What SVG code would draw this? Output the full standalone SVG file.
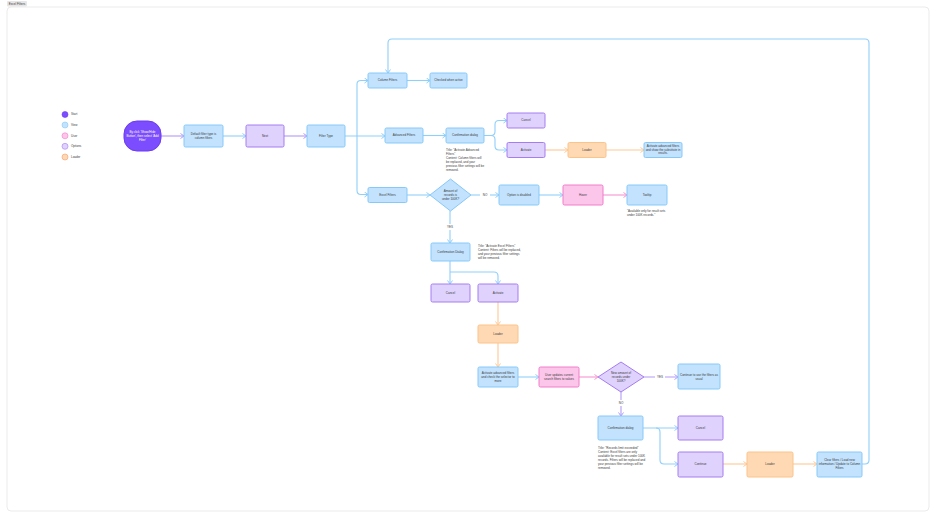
<svg xmlns="http://www.w3.org/2000/svg" width="936" height="517" viewBox="0 0 936 517">
<defs>
<style>
text{font-family:"Liberation Sans",Arial,sans-serif;font-size:3px;fill:#3a3a3a;text-anchor:middle;dominant-baseline:middle}
.note{text-anchor:start;dominant-baseline:auto}
.lg{text-anchor:start}
.blue{fill:#c2e2fd;stroke:#86c9f9;stroke-width:1}
.purp{fill:#dfd2fc;stroke:#a57cf2;stroke-width:1}
.orng{fill:#fed9b3;stroke:#fcc38a;stroke-width:1}
.pink{fill:#fcc6ea;stroke:#f17cc9;stroke-width:1}
.c{fill:none;stroke-width:1.1}
.cb{stroke:#90cffa}
.cp{stroke:#b39af7}
.co{stroke:#fdc995}
.ck{stroke:#f594d1}
.lbl{fill:#fff}
</style>
<marker id="mb" markerUnits="userSpaceOnUse" markerWidth="6" markerHeight="6" refX="4" refY="3" orient="auto"><path d="M0.5,0.5 L4,3 L0.5,5.5" fill="none" stroke="#90cffa" stroke-width="1"/></marker>
<marker id="mp" markerUnits="userSpaceOnUse" markerWidth="6" markerHeight="6" refX="4" refY="3" orient="auto"><path d="M0.5,0.5 L4,3 L0.5,5.5" fill="none" stroke="#b39af7" stroke-width="1"/></marker>
<marker id="mo" markerUnits="userSpaceOnUse" markerWidth="6" markerHeight="6" refX="4" refY="3" orient="auto"><path d="M0.5,0.5 L4,3 L0.5,5.5" fill="none" stroke="#fdc995" stroke-width="1"/></marker>
<marker id="mk" markerUnits="userSpaceOnUse" markerWidth="6" markerHeight="6" refX="4" refY="3" orient="auto"><path d="M0.5,0.5 L4,3 L0.5,5.5" fill="none" stroke="#f594d1" stroke-width="1"/></marker>
</defs>
<rect x="0" y="0" width="936" height="517" fill="#fff"/>
<rect x="7" y="7" width="922" height="504" rx="4" fill="#fff" stroke="#e6e6e6" stroke-width="0.8"/>
<g id="title"><rect x="7" y="1" width="20" height="5.5" rx="1" fill="#e6e6e6"/><text x="17" y="3.9">Excel Filters</text></g>

<g id="legend">
<circle cx="65" cy="114.5" r="3" fill="#7c4dff" stroke="#6a3cf0" stroke-width="0.6"/><text class="lg" x="71" y="114.5">Start</text>
<circle cx="65" cy="125" r="3" fill="#c2e2fd" stroke="#86c9f9" stroke-width="0.6"/><text class="lg" x="71" y="125">View</text>
<circle cx="65" cy="135.8" r="3" fill="#fcc6ea" stroke="#f17cc9" stroke-width="0.6"/><text class="lg" x="71" y="135.8">User</text>
<circle cx="65" cy="146.3" r="3" fill="#dfd2fc" stroke="#a57cf2" stroke-width="0.6"/><text class="lg" x="71" y="146.3">Options</text>
<circle cx="65" cy="157" r="3" fill="#fed9b3" stroke="#f99a6b" stroke-width="0.6"/><text class="lg" x="71" y="157">Loader</text>
</g>

<g id="connectors">
<path class="c cp" d="M161,136 H184" marker-end="url(#mp)"/>
<path class="c cb" d="M223,136 H246" marker-end="url(#mb)"/>
<path class="c cp" d="M284,136 H307" marker-end="url(#mp)"/>
<path class="c cb" d="M345,136 H385" marker-end="url(#mb)"/>
<path class="c cb" d="M357,136 V84 Q357,80.5 361,80.5 H368" marker-end="url(#mb)"/>
<path class="c cb" d="M357,136 V190.5 Q357,194.5 361,194.5 H368" marker-end="url(#mb)"/>
<path class="c cb" d="M407,80.5 H430" marker-end="url(#mb)"/>
<path class="c cb" d="M423,135.5 H446" marker-end="url(#mb)"/>
<path class="c cb" d="M484,135.5 H491 Q495,135.5 495,131.5 V124.5 Q495,120.5 499,120.5 H507" marker-end="url(#mb)"/>
<path class="c cb" d="M491,135.5 Q495,135.5 495,139.5 V146 Q495,150 499,150 H507" marker-end="url(#mb)"/>
<path class="c co" d="M545,150 H568" marker-end="url(#mo)"/>
<path class="c co" d="M606,150 H644" marker-end="url(#mo)"/>
<path class="c cb" d="M407,195 H430" marker-end="url(#mb)"/>
<path class="c cb" d="M471,195 H499" marker-end="url(#mb)"/>
<path class="c cb" d="M539,195 H563" marker-end="url(#mb)"/>
<path class="c ck" d="M603,195 H627" marker-end="url(#mk)"/>
<path class="c cb" d="M450,211 V243" marker-end="url(#mb)"/>
<path class="c cb" d="M450,261 V284" marker-end="url(#mb)"/>
<path class="c cb" d="M450,272 H494 Q498,272 498,276 V284" marker-end="url(#mb)"/>
<path class="c co" d="M498,302 V325" marker-end="url(#mo)"/>
<path class="c co" d="M498,343 V367" marker-end="url(#mo)"/>
<path class="c cb" d="M518,377 H539" marker-end="url(#mb)"/>
<path class="c ck" d="M579,377 H598" marker-end="url(#mk)"/>
<path class="c cp" d="M644,377 H678" marker-end="url(#mp)"/>
<path class="c cp" d="M621,392 V416" marker-end="url(#mp)"/>
<path class="c cb" d="M643,428 H678" marker-end="url(#mb)"/>
<path class="c cb" d="M656,428 Q660,428 660,432 V460 Q660,464 664,464 H678" marker-end="url(#mb)"/>
<path class="c co" d="M723,464 H747" marker-end="url(#mo)"/>
<path class="c co" d="M793,464 H817" marker-end="url(#mo)"/>
<path class="c cb" d="M862,464 H865 Q869,464 869,460 V43 Q869,39 865,39 H392 Q388,39 388,43 V73" marker-end="url(#mb)"/>
<rect class="lbl" x="480" y="192" width="10" height="6"/><text x="485" y="195">NO</text>
<rect class="lbl" x="445" y="224" width="10" height="6"/><text x="450" y="227">YES</text>
<rect class="lbl" x="655" y="374" width="10" height="6"/><text x="660" y="377">YES</text>
<rect class="lbl" x="616" y="400" width="10" height="6"/><text x="621" y="403">NO</text>
</g>

<g id="start"><rect x="124" y="121" width="37" height="30" rx="13" fill="#7c4dff" stroke="#6a3cf0" stroke-width="1"/>
<text x="142.5" y="132" style="fill:#fff">By click 'Show/Hide</text><text x="142.5" y="136" style="fill:#fff">Button', then select 'Add</text><text x="142.5" y="140" style="fill:#fff">Filter'</text></g>
<g id="default"><rect class="blue" x="184" y="125" width="39" height="22" rx="1.5"/><text x="203.5" y="134.2">Default filter type is</text><text x="203.5" y="138.2">column filters</text></g>
<g id="next"><rect class="purp" x="246" y="125" width="38" height="22" rx="1.5"/><text x="265" y="136">Next</text></g>
<g id="filtertype"><rect class="blue" x="307" y="125" width="38" height="22" rx="1.5"/><text x="326" y="136">Filter Type</text></g>
<g id="columnfilters"><rect class="blue" x="368" y="73" width="39" height="15" rx="1.5"/><text x="387.5" y="80.5">Column Filters</text></g>
<g id="checked"><rect class="blue" x="430" y="73" width="37" height="15" rx="1.5"/><text x="448.5" y="80.5">Checked when active</text></g>
<g id="advanced"><rect class="blue" x="385" y="128" width="38" height="15" rx="1.5"/><text x="404" y="135.5">Advanced Filters</text></g>
<g id="confirm1"><rect class="blue" x="446" y="128" width="38" height="15" rx="1.5"/><text x="465" y="135.5">Confirmation dialog</text>
<text class="note" x="446" y="151">Title: "Activate Advanced</text><text class="note" x="446" y="155">Filters"</text><text class="note" x="446" y="159">Content: Column filters will</text><text class="note" x="446" y="163">be replaced, and your</text><text class="note" x="446" y="167">previous filter settings will be</text><text class="note" x="446" y="171">removed.</text></g>
<g id="cancel1"><rect class="purp" x="507" y="113" width="38" height="15" rx="1.5"/><text x="526" y="120.5">Cancel</text></g>
<g id="activate1"><rect class="purp" x="507" y="142.5" width="38" height="15" rx="1.5"/><text x="526" y="150">Activate</text></g>
<g id="loader1"><rect class="orng" x="568" y="142.5" width="38" height="15" rx="1.5"/><text x="587" y="150">Loader</text></g>
<g id="advresult"><rect class="blue" x="644" y="142.5" width="38" height="15" rx="1.5"/><text x="663" y="146.5">Activate advanced filters</text><text x="663" y="150">and show the substitute in</text><text x="663" y="153.5">results.</text></g>
<g id="excelfilters"><rect class="blue" x="368" y="187.5" width="39" height="15" rx="1.5"/><text x="387.5" y="195">Excel Filters</text></g>
<g id="decision1"><path class="blue" d="M450.5,179 L471,195 L450.5,211 L430,195 Z"/><text x="450.5" y="191">Amount of</text><text x="450.5" y="195">records is</text><text x="450.5" y="199">under 100K?</text></g>
<g id="disabled"><rect class="blue" x="499" y="185" width="40" height="20" rx="1.5"/><text x="519" y="195">Option is disabled</text></g>
<g id="hover"><rect class="pink" x="563" y="185" width="40" height="20" rx="1.5"/><text x="583" y="195">Hover</text></g>
<g id="tooltip"><rect class="blue" x="627" y="185" width="40" height="20" rx="1.5"/><text x="647" y="195">Tooltip</text>
<text class="note" x="627" y="212">"Available only for result sets</text><text class="note" x="627" y="216">under 100K records."</text></g>
<g id="confirm2"><rect class="blue" x="431" y="243" width="39" height="18" rx="1.5"/><text x="450.5" y="252">Confirmation Dialog</text>
<text class="note" x="478" y="247">Title: "Activate Excel Filters"</text><text class="note" x="478" y="251">Content: Filters will be replaced,</text><text class="note" x="478" y="255">and your previous filter settings</text><text class="note" x="478" y="259">will be removed.</text></g>
<g id="cancel2"><rect class="purp" x="431" y="284" width="39" height="18" rx="1.5"/><text x="450.5" y="293">Cancel</text></g>
<g id="activate2"><rect class="purp" x="478" y="284" width="40" height="18" rx="1.5"/><text x="498" y="293">Activate</text></g>
<g id="loader2"><rect class="orng" x="478" y="325" width="40" height="18" rx="1.5"/><text x="498" y="334">Loader</text></g>
<g id="activateexcel"><rect class="blue" x="478" y="367" width="40" height="20" rx="1.5"/><text x="498" y="373">Activate advanced filters</text><text x="498" y="377">and check the selector to</text><text x="498" y="381">more</text></g>
<g id="userupdates"><rect class="pink" x="539" y="367" width="40" height="20" rx="1.5"/><text x="559" y="375">User updates current</text><text x="559" y="379">search filters to values</text></g>
<g id="decision2"><path class="purp" d="M621,362 L644,377 L621,392 L598,377 Z"/><text x="621" y="373">New amount of</text><text x="621" y="377">records under</text><text x="621" y="381">100K?</text></g>
<g id="continueuse"><rect class="blue" x="678" y="364" width="42" height="25" rx="1.5"/><text x="699" y="375">Continue to use the filters as</text><text x="699" y="379">usual</text></g>
<g id="confirm3"><rect class="blue" x="598" y="416" width="45" height="24" rx="1.5"/><text x="620.5" y="428">Confirmation dialog</text>
<text class="note" x="598" y="449">Title: "Records limit exceeded"</text><text class="note" x="598" y="453">Content: Excel filters are only</text><text class="note" x="598" y="457">available for result sets under 100K</text><text class="note" x="598" y="461">records. Filters will be replaced and</text><text class="note" x="598" y="465">your previous filter settings will be</text><text class="note" x="598" y="469">removed.</text></g>
<g id="cancel3"><rect class="purp" x="678" y="416" width="45" height="24" rx="1.5"/><text x="700.5" y="428">Cancel</text></g>
<g id="continue"><rect class="purp" x="678" y="452" width="45" height="25" rx="1.5"/><text x="700.5" y="464.5">Continue</text></g>
<g id="loader3"><rect class="orng" x="747" y="452" width="46" height="25" rx="1.5"/><text x="770" y="464.5">Loader</text></g>
<g id="clearfilters"><rect class="blue" x="817" y="452" width="45" height="25" rx="1.5"/><text x="839.5" y="460.5">Clear filters / Load new</text><text x="839.5" y="464.5">information / Update to Column</text><text x="839.5" y="468.5">Filters</text></g>
</svg>
